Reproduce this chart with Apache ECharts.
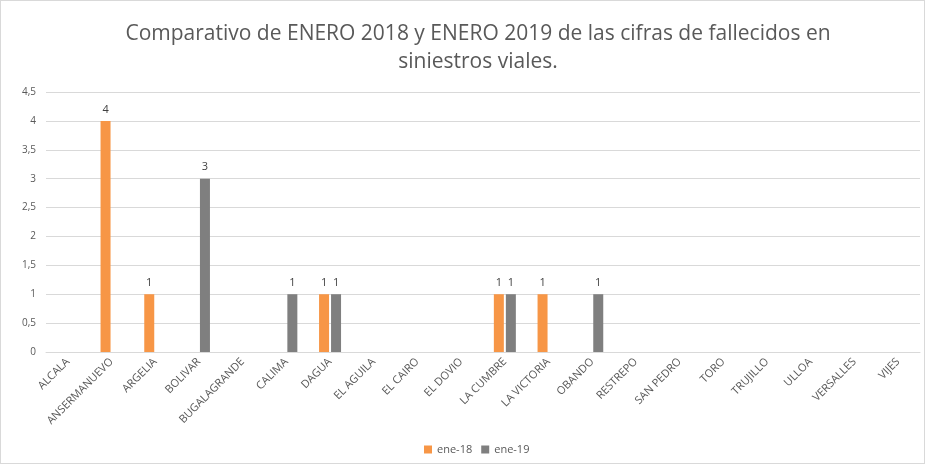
<!DOCTYPE html>
<html>
<head>
<meta charset="utf-8">
<script src="https://cdn.jsdelivr.net/npm/echarts@6/dist/echarts.min.js"></script>
<style>
  html, body { margin: 0; padding: 0; background: #fff; }
  #chart { width: 923px; height: 462px; border: 1px solid #d9d9d9; }
</style>
</head>
<body>
<div id="chart"></div>
<script>
const municipios = [
  "ALCALA", "ANSERMANUEVO", "ARGELIA", "BOLIVAR", "BUGALAGRANDE", "CALIMA",
  "DAGUA", "EL AGUILA", "EL CAIRO", "EL DOVIO", "LA CUMBRE", "LA VICTORIA",
  "OBANDO", "RESTREPO", "SAN PEDRO", "TORO", "TRUJILLO", "ULLOA",
  "VERSALLES", "VIJES"
];
const ene18 = [0, 4, 1, 0, 0, 0, 1, 0, 0, 0, 1, 1, 0, 0, 0, 0, 0, 0, 0, 0];
const ene19 = [0, 0, 0, 3, 0, 1, 1, 0, 0, 0, 1, 0, 1, 0, 0, 0, 0, 0, 0, 0];
const serieNames = ["ene-18", "ene-19"];

const chart = echarts.init(document.getElementById("chart"));

const labelOpts = {
  show: true,
  position: "top",
  color: "#404040",
  fontSize: 11,
  distance: 6,
  formatter: (p) => (p.value ? String(p.value) : ""),
};

chart.setOption({
  animation: false,
  textStyle: { fontFamily: "Open Sans, Noto Sans, sans-serif" },
  title: {
    text: "Comparativo de ENERO 2018 y ENERO 2019 de las cifras de fallecidos en\nsiniestros viales.",
    left: 472,
    top: 14,
    textAlign: "center",
    textStyle: {
      color: "#595959",
      fontSize: 21,
      fontWeight: "normal",
      lineHeight: 28,
    },
  },
  legend: {
    bottom: 3,
    left: 418,
    itemWidth: 8,
    itemHeight: 8,
    itemGap: 9,
    icon: "rect",
    textStyle: { color: "#595959", fontSize: 11 },
    data: serieNames,
  },
  grid: {
    left: 45,
    right: 4,
    top: 91,
    bottom: 111,
  },
  xAxis: {
    type: "category",
    data: municipios,
    axisLine: { lineStyle: { color: "#d9d9d9" } },
    axisTick: { show: false },
    axisLabel: {
      color: "#595959",
      fontSize: 11,
      rotate: 45,
      interval: 0,
      margin: 8,
    },
  },
  yAxis: {
    type: "value",
    min: 0,
    max: 4.5,
    interval: 0.5,
    axisLine: { show: false },
    axisTick: { show: false },
    splitLine: { lineStyle: { color: "#d9d9d9" } },
    axisLabel: {
      color: "#595959",
      fontSize: 10,
      margin: 10,
      formatter: (v) => String(v).replace(".", ","),
    },
  },
  series: [
    {
      name: serieNames[0],
      type: "bar",
      data: ene18,
      barWidth: 10,
      barGap: "20%",
      itemStyle: { color: "#f79646" },
      label: labelOpts,
    },
    {
      name: serieNames[1],
      type: "bar",
      data: ene19,
      barWidth: 10,
      itemStyle: { color: "#7f7f7f" },
      label: labelOpts,
    },
  ],
});
</script>
</body>
</html>
